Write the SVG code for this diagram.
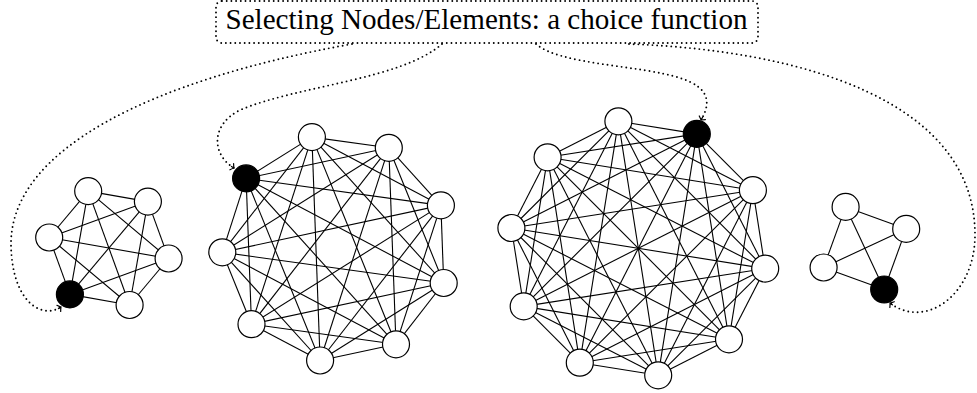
<svg xmlns="http://www.w3.org/2000/svg" width="977" height="393" viewBox="0 0 977 393">
<style>
.e{stroke:#000;stroke-width:1.1;fill:none}
.n{fill:#fff;stroke:#000;stroke-width:1.2}
.sel{fill:#000;stroke:#000;stroke-width:1.2}
.dot{fill:none;stroke:#000;stroke-width:1.9;stroke-linecap:round;stroke-dasharray:0 4.7}
.title{font-family:"Liberation Serif","Times New Roman",serif;font-size:28.5px;fill:#000}
</style>
<defs>
<marker id="tip" markerUnits="userSpaceOnUse" markerWidth="12" markerHeight="12" refX="0" refY="0" viewBox="-6 -6 12 12" orient="auto" overflow="visible">
<path d="M-3,0 L0,0 M-2.6,-3.6 Q-1,-1 0,0 Q-1,1 -2.6,3.6" fill="none" stroke="#000" stroke-width="1.2" stroke-linecap="round"/>
</marker>
</defs>
<rect width="977" height="393" fill="#fff"/>
<g id="title">
<rect x="216" y="1" width="542" height="42" rx="6" class="dot"/>
<text class="title" x="486.5" y="28.5" text-anchor="middle" textLength="522" lengthAdjust="spacingAndGlyphs">Selecting Nodes/Elements: a choice function</text>
</g>
<g id="connectors">
<path class="dot" d="M352,44 C150,80 10,150 11,245 C12,300 40,320 61,307" marker-end="url(#tip)"/>
<path class="dot" d="M442,44 C400,80 300,85 240,110 C210,125 212,155 234,168" marker-end="url(#tip)"/>
<path class="dot" d="M536,44 C560,65 640,65 680,78 C712,88 710,105 701,120" marker-end="url(#tip)"/>
<path class="dot" d="M629,44 C800,50 975,100 975,235 C975,295 925,330 890,303" marker-end="url(#tip)"/>
<g id="edges-k6">
<line class="e" x1="168.6" y1="258.5" x2="129.6" y2="305"/>
<line class="e" x1="168.6" y1="258.5" x2="69.9" y2="294.4"/>
<line class="e" x1="168.6" y1="258.5" x2="49.2" y2="237.5"/>
<line class="e" x1="168.6" y1="258.5" x2="88.2" y2="191.1"/>
<line class="e" x1="168.6" y1="258.5" x2="147.9" y2="201.6"/>
<line class="e" x1="129.6" y1="305" x2="69.9" y2="294.4"/>
<line class="e" x1="129.6" y1="305" x2="49.2" y2="237.5"/>
<line class="e" x1="129.6" y1="305" x2="88.2" y2="191.1"/>
<line class="e" x1="129.6" y1="305" x2="147.9" y2="201.6"/>
<line class="e" x1="69.9" y1="294.4" x2="49.2" y2="237.5"/>
<line class="e" x1="69.9" y1="294.4" x2="88.2" y2="191.1"/>
<line class="e" x1="69.9" y1="294.4" x2="147.9" y2="201.6"/>
<line class="e" x1="49.2" y1="237.5" x2="88.2" y2="191.1"/>
<line class="e" x1="49.2" y1="237.5" x2="147.9" y2="201.6"/>
<line class="e" x1="88.2" y1="191.1" x2="147.9" y2="201.6"/>
</g>
<g id="edges-k9">
<line class="e" x1="320.1" y1="360.5" x2="251.5" y2="324.2"/>
<line class="e" x1="320.1" y1="360.5" x2="222.3" y2="252.3"/>
<line class="e" x1="320.1" y1="360.5" x2="246.1" y2="178.4"/>
<line class="e" x1="320.1" y1="360.5" x2="311.9" y2="137.1"/>
<line class="e" x1="320.1" y1="360.5" x2="388.8" y2="147.8"/>
<line class="e" x1="320.1" y1="360.5" x2="440.9" y2="205.4"/>
<line class="e" x1="320.1" y1="360.5" x2="443.7" y2="283"/>
<line class="e" x1="320.1" y1="360.5" x2="396" y2="344.3"/>
<line class="e" x1="251.5" y1="324.2" x2="222.3" y2="252.3"/>
<line class="e" x1="251.5" y1="324.2" x2="246.1" y2="178.4"/>
<line class="e" x1="251.5" y1="324.2" x2="311.9" y2="137.1"/>
<line class="e" x1="251.5" y1="324.2" x2="388.8" y2="147.8"/>
<line class="e" x1="251.5" y1="324.2" x2="440.9" y2="205.4"/>
<line class="e" x1="251.5" y1="324.2" x2="443.7" y2="283"/>
<line class="e" x1="251.5" y1="324.2" x2="396" y2="344.3"/>
<line class="e" x1="222.3" y1="252.3" x2="246.1" y2="178.4"/>
<line class="e" x1="222.3" y1="252.3" x2="311.9" y2="137.1"/>
<line class="e" x1="222.3" y1="252.3" x2="388.8" y2="147.8"/>
<line class="e" x1="222.3" y1="252.3" x2="440.9" y2="205.4"/>
<line class="e" x1="222.3" y1="252.3" x2="443.7" y2="283"/>
<line class="e" x1="222.3" y1="252.3" x2="396" y2="344.3"/>
<line class="e" x1="246.1" y1="178.4" x2="311.9" y2="137.1"/>
<line class="e" x1="246.1" y1="178.4" x2="388.8" y2="147.8"/>
<line class="e" x1="246.1" y1="178.4" x2="440.9" y2="205.4"/>
<line class="e" x1="246.1" y1="178.4" x2="443.7" y2="283"/>
<line class="e" x1="246.1" y1="178.4" x2="396" y2="344.3"/>
<line class="e" x1="311.9" y1="137.1" x2="388.8" y2="147.8"/>
<line class="e" x1="311.9" y1="137.1" x2="440.9" y2="205.4"/>
<line class="e" x1="311.9" y1="137.1" x2="443.7" y2="283"/>
<line class="e" x1="311.9" y1="137.1" x2="396" y2="344.3"/>
<line class="e" x1="388.8" y1="147.8" x2="440.9" y2="205.4"/>
<line class="e" x1="388.8" y1="147.8" x2="443.7" y2="283"/>
<line class="e" x1="388.8" y1="147.8" x2="396" y2="344.3"/>
<line class="e" x1="440.9" y1="205.4" x2="443.7" y2="283"/>
<line class="e" x1="440.9" y1="205.4" x2="396" y2="344.3"/>
<line class="e" x1="443.7" y1="283" x2="396" y2="344.3"/>
</g>
<g id="edges-k10">
<line class="e" x1="765.2" y1="268.6" x2="729" y2="339.3"/>
<line class="e" x1="765.2" y1="268.6" x2="658.2" y2="375.3"/>
<line class="e" x1="765.2" y1="268.6" x2="579.8" y2="362.7"/>
<line class="e" x1="765.2" y1="268.6" x2="523.7" y2="306.4"/>
<line class="e" x1="765.2" y1="268.6" x2="511.4" y2="228"/>
<line class="e" x1="765.2" y1="268.6" x2="547.6" y2="157.3"/>
<line class="e" x1="765.2" y1="268.6" x2="618.4" y2="121.3"/>
<line class="e" x1="765.2" y1="268.6" x2="696.8" y2="133.9"/>
<line class="e" x1="765.2" y1="268.6" x2="752.9" y2="190.2"/>
<line class="e" x1="729" y1="339.3" x2="658.2" y2="375.3"/>
<line class="e" x1="729" y1="339.3" x2="579.8" y2="362.7"/>
<line class="e" x1="729" y1="339.3" x2="523.7" y2="306.4"/>
<line class="e" x1="729" y1="339.3" x2="511.4" y2="228"/>
<line class="e" x1="729" y1="339.3" x2="547.6" y2="157.3"/>
<line class="e" x1="729" y1="339.3" x2="618.4" y2="121.3"/>
<line class="e" x1="729" y1="339.3" x2="696.8" y2="133.9"/>
<line class="e" x1="729" y1="339.3" x2="752.9" y2="190.2"/>
<line class="e" x1="658.2" y1="375.3" x2="579.8" y2="362.7"/>
<line class="e" x1="658.2" y1="375.3" x2="523.7" y2="306.4"/>
<line class="e" x1="658.2" y1="375.3" x2="511.4" y2="228"/>
<line class="e" x1="658.2" y1="375.3" x2="547.6" y2="157.3"/>
<line class="e" x1="658.2" y1="375.3" x2="618.4" y2="121.3"/>
<line class="e" x1="658.2" y1="375.3" x2="696.8" y2="133.9"/>
<line class="e" x1="658.2" y1="375.3" x2="752.9" y2="190.2"/>
<line class="e" x1="579.8" y1="362.7" x2="523.7" y2="306.4"/>
<line class="e" x1="579.8" y1="362.7" x2="511.4" y2="228"/>
<line class="e" x1="579.8" y1="362.7" x2="547.6" y2="157.3"/>
<line class="e" x1="579.8" y1="362.7" x2="618.4" y2="121.3"/>
<line class="e" x1="579.8" y1="362.7" x2="696.8" y2="133.9"/>
<line class="e" x1="579.8" y1="362.7" x2="752.9" y2="190.2"/>
<line class="e" x1="523.7" y1="306.4" x2="511.4" y2="228"/>
<line class="e" x1="523.7" y1="306.4" x2="547.6" y2="157.3"/>
<line class="e" x1="523.7" y1="306.4" x2="618.4" y2="121.3"/>
<line class="e" x1="523.7" y1="306.4" x2="696.8" y2="133.9"/>
<line class="e" x1="523.7" y1="306.4" x2="752.9" y2="190.2"/>
<line class="e" x1="511.4" y1="228" x2="547.6" y2="157.3"/>
<line class="e" x1="511.4" y1="228" x2="618.4" y2="121.3"/>
<line class="e" x1="511.4" y1="228" x2="696.8" y2="133.9"/>
<line class="e" x1="511.4" y1="228" x2="752.9" y2="190.2"/>
<line class="e" x1="547.6" y1="157.3" x2="618.4" y2="121.3"/>
<line class="e" x1="547.6" y1="157.3" x2="696.8" y2="133.9"/>
<line class="e" x1="547.6" y1="157.3" x2="752.9" y2="190.2"/>
<line class="e" x1="618.4" y1="121.3" x2="696.8" y2="133.9"/>
<line class="e" x1="618.4" y1="121.3" x2="752.9" y2="190.2"/>
<line class="e" x1="696.8" y1="133.9" x2="752.9" y2="190.2"/>
</g>
<g id="edges-k4">
<line class="e" x1="884.2" y1="289.5" x2="823.6" y2="267.5"/>
<line class="e" x1="884.2" y1="289.5" x2="845.6" y2="206.9"/>
<line class="e" x1="884.2" y1="289.5" x2="906.2" y2="228.9"/>
<line class="e" x1="823.6" y1="267.5" x2="845.6" y2="206.9"/>
<line class="e" x1="823.6" y1="267.5" x2="906.2" y2="228.9"/>
<line class="e" x1="845.6" y1="206.9" x2="906.2" y2="228.9"/>
</g>
</g>
<g id="nodes-k6">
<g id="a1"><circle class="n" cx="168.6" cy="258.5" r="13.5"/></g>
<g id="a2"><circle class="n" cx="129.6" cy="305" r="13.5"/></g>
<g id="a3"><circle class="sel" cx="69.9" cy="294.4" r="13.5"/></g>
<g id="a4"><circle class="n" cx="49.2" cy="237.5" r="13.5"/></g>
<g id="a5"><circle class="n" cx="88.2" cy="191.1" r="13.5"/></g>
<g id="a6"><circle class="n" cx="147.9" cy="201.6" r="13.5"/></g>
</g>
<g id="nodes-k9">
<g id="b1"><circle class="n" cx="320.1" cy="360.5" r="13.5"/></g>
<g id="b2"><circle class="n" cx="251.5" cy="324.2" r="13.5"/></g>
<g id="b3"><circle class="n" cx="222.3" cy="252.3" r="13.5"/></g>
<g id="b4"><circle class="sel" cx="246.1" cy="178.4" r="13.5"/></g>
<g id="b5"><circle class="n" cx="311.9" cy="137.1" r="13.5"/></g>
<g id="b6"><circle class="n" cx="388.8" cy="147.8" r="13.5"/></g>
<g id="b7"><circle class="n" cx="440.9" cy="205.4" r="13.5"/></g>
<g id="b8"><circle class="n" cx="443.7" cy="283" r="13.5"/></g>
<g id="b9"><circle class="n" cx="396" cy="344.3" r="13.5"/></g>
</g>
<g id="nodes-k10">
<g id="c1"><circle class="n" cx="765.2" cy="268.6" r="13.5"/></g>
<g id="c2"><circle class="n" cx="729" cy="339.3" r="13.5"/></g>
<g id="c3"><circle class="n" cx="658.2" cy="375.3" r="13.5"/></g>
<g id="c4"><circle class="n" cx="579.8" cy="362.7" r="13.5"/></g>
<g id="c5"><circle class="n" cx="523.7" cy="306.4" r="13.5"/></g>
<g id="c6"><circle class="n" cx="511.4" cy="228" r="13.5"/></g>
<g id="c7"><circle class="n" cx="547.6" cy="157.3" r="13.5"/></g>
<g id="c8"><circle class="n" cx="618.4" cy="121.3" r="13.5"/></g>
<g id="c9"><circle class="sel" cx="696.8" cy="133.9" r="13.5"/></g>
<g id="c10"><circle class="n" cx="752.9" cy="190.2" r="13.5"/></g>
</g>
<g id="nodes-k4">
<g id="d1"><circle class="sel" cx="884.2" cy="289.5" r="13.5"/></g>
<g id="d2"><circle class="n" cx="823.6" cy="267.5" r="13.5"/></g>
<g id="d3"><circle class="n" cx="845.6" cy="206.9" r="13.5"/></g>
<g id="d4"><circle class="n" cx="906.2" cy="228.9" r="13.5"/></g>
</g>
</svg>
